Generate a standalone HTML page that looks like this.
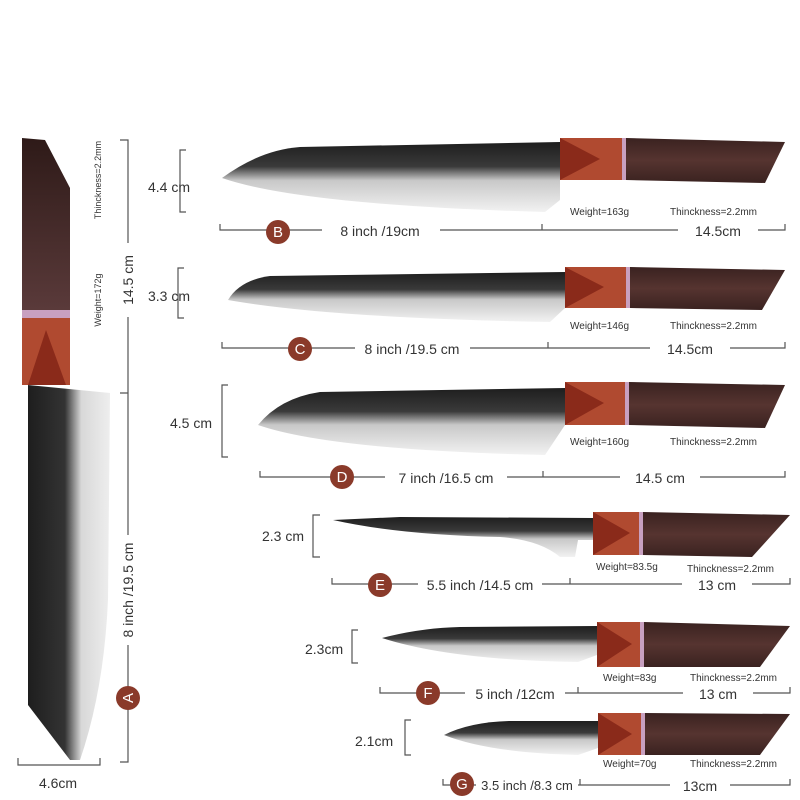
<!DOCTYPE html>
<html><head><meta charset="utf-8"><style>
html,body{margin:0;padding:0;background:#fff}
svg{display:block}
text{font-family:"Liberation Sans",sans-serif;fill:#333}
</style></head><body>
<svg width="800" height="800" viewBox="0 0 800 800" xmlns="http://www.w3.org/2000/svg">
<defs>
<linearGradient id="bl" x1="0" y1="0" x2="0" y2="1">
<stop offset="0" stop-color="#1e1e1e"/><stop offset="0.35" stop-color="#3a3a3a"/><stop offset="0.55" stop-color="#c8c8c8"/><stop offset="1" stop-color="#f2f2f2"/></linearGradient>
<linearGradient id="blA" x1="0" y1="0" x2="1" y2="0">
<stop offset="0" stop-color="#1e1e1e"/><stop offset="0.45" stop-color="#333"/><stop offset="0.65" stop-color="#d8d8d8"/><stop offset="1" stop-color="#eee"/></linearGradient>
<linearGradient id="wd" x1="0" y1="0" x2="0" y2="1">
<stop offset="0" stop-color="#3a2220"/><stop offset="0.5" stop-color="#563430"/><stop offset="1" stop-color="#3a2220"/></linearGradient>
<linearGradient id="wdA" x1="0" y1="0" x2="0" y2="1">
<stop offset="0" stop-color="#2e1a18"/><stop offset="1" stop-color="#5a3a3a"/></linearGradient>
</defs>

<!-- Knife A vertical -->
<path d="M22,138 L45,140 L70,188 L70,310 L22,310 Z" fill="url(#wdA)"/>
<rect x="22" y="310" width="48" height="8" fill="#c8a0c0"/>
<rect x="22" y="318" width="48" height="67" fill="#b04a30"/>
<path d="M28,385 L46,330 L66,385 Z" fill="#8a2a1a"/>
<path d="M28,385 L110,393 L108,600 Q104,690 80,760 L70,760 L28,705 Z" fill="url(#blA)"/>
<g stroke="#555" stroke-width="1.2" fill="none">
<path d="M120,140 H128 V762 H120 M120,393 H128"/>
<path d="M18,758 V765 H100 V758"/>
</g>
<rect x="120" y="243" width="16" height="74" fill="#fff"/>
<rect x="120" y="535" width="16" height="110" fill="#fff"/>
<text x="0" y="0" font-size="14" transform="translate(133,280) rotate(-90)" text-anchor="middle">14.5 cm</text>
<text x="0" y="0" font-size="14" transform="translate(133,590) rotate(-90)" text-anchor="middle">8 inch /19.5 cm</text>
<text x="0" y="0" font-size="9" transform="translate(101,180) rotate(-90)" text-anchor="middle">Thinckness=2.2mm</text>
<text x="0" y="0" font-size="9" transform="translate(101,300) rotate(-90)" text-anchor="middle">Weight=172g</text>
<circle cx="128" cy="698" r="12" fill="#8a3a2a"/>
<text x="0" y="0" font-size="15" transform="translate(133,698) rotate(-90)" text-anchor="middle" style="fill:#fff">A</text>
<text x="58" y="788" font-size="14" text-anchor="middle">4.6cm</text>

<g stroke="#555" stroke-width="1.2" fill="none">
<path d="M186,150 H180 V212 H186"/><path d="M220,224 V230 H785 V224 M542,224 V230"/>
<path d="M184,268 H178 V318 H184"/><path d="M222,342 V348 H785 V342 M548,342 V348"/>
<path d="M228,385 H222 V457 H228"/><path d="M260,471 V477 H785 V471 M543,471 V477"/>
<path d="M320,515 H313 V557 H320"/><path d="M332,578 V584 H790 V578 M570,578 V584"/>
<path d="M358,630 H352 V663 H358"/><path d="M380,687 V693 H790 V687 M578,687 V693"/>
<path d="M411,720 H405 V755 H411"/><path d="M443,779 V785 H790 V779 M580,779 V785"/>
</g>

<path d="M222,178 Q260,150 300,147 L560,142 L560,200 L545,212 Q300,205 222,178 Z" fill="url(#bl)"/>
<rect x="560" y="138" width="65" height="42" fill="#b04a30"/><path d="M560,138 L600,159 L560,180 Z" fill="#8a2a1a"/>
<rect x="622" y="138" width="4" height="42" fill="#c8a0c0"/>
<path d="M626,138 L785,142 L765,183 L626,180 Z" fill="url(#wd)"/>
<path d="M228,300 Q240,280 270,276 L565,272 L565,308 L550,322 Q330,318 228,300 Z" fill="url(#bl)"/>
<rect x="565" y="267" width="63" height="41" fill="#b04a30"/><path d="M565,267 L604,287 L565,308 Z" fill="#8a2a1a"/>
<rect x="626" y="267" width="4" height="41" fill="#c8a0c0"/>
<path d="M630,267 L785,270 L762,310 L630,308 Z" fill="url(#wd)"/>
<path d="M258,425 Q280,398 320,392 L565,388 L565,425 L545,455 Q330,450 258,425 Z" fill="url(#bl)"/>
<rect x="565" y="382" width="63" height="43" fill="#b04a30"/><path d="M565,382 L604,403 L565,425 Z" fill="#8a2a1a"/>
<rect x="625" y="382" width="4" height="43" fill="#c8a0c0"/>
<path d="M629,382 L785,385 L765,428 L629,425 Z" fill="url(#wd)"/>
<path d="M333,520 L400,517 L593,518 L593,540 L578,540 L575,557 L560,557 Q540,540 500,537 Q400,535 333,520 Z" fill="url(#bl)"/>
<rect x="593" y="512" width="47" height="43" fill="#b04a30"/><path d="M593,512 L630,533 L593,555 Z" fill="#8a2a1a"/>
<rect x="639" y="512" width="4" height="43" fill="#c8a0c0"/>
<path d="M643,512 L790,515 L752,557 L643,555 Z" fill="url(#wd)"/>
<path d="M382,638 Q420,628 460,627 L597,626 L597,655 L578,662 Q450,660 382,638 Z" fill="url(#bl)"/>
<rect x="597" y="622" width="43" height="45" fill="#b04a30"/><path d="M597,622 L632,644 L597,667 Z" fill="#8a2a1a"/>
<rect x="640" y="622" width="4" height="45" fill="#c8a0c0"/>
<path d="M644,622 L790,626 L760,667 L644,667 Z" fill="url(#wd)"/>
<path d="M444,735 Q470,722 510,721 L598,721 L598,748 L578,755 Q490,753 444,735 Z" fill="url(#bl)"/>
<rect x="598" y="713" width="43" height="42" fill="#b04a30"/><path d="M598,713 L632,734 L598,755 Z" fill="#8a2a1a"/>
<rect x="641" y="713" width="4" height="42" fill="#c8a0c0"/>
<path d="M645,713 L790,714 L760,755 L645,755 Z" fill="url(#wd)"/>

<g font-size="14">
<text x="148" y="192">4.4 cm</text>
<text x="148" y="301">3.3 cm</text>
<text x="170" y="428">4.5 cm</text>
<text x="262" y="541">2.3 cm</text>
<text x="305" y="654">2.3cm</text>
<text x="355" y="746">2.1cm</text>
</g>
<g font-size="10">
<text x="570" y="215">Weight=163g</text><text x="670" y="215">Thinckness=2.2mm</text>
<text x="570" y="329">Weight=146g</text><text x="670" y="329">Thinckness=2.2mm</text>
<text x="570" y="445">Weight=160g</text><text x="670" y="445">Thinckness=2.2mm</text>
<text x="596" y="570">Weight=83.5g</text><text x="687" y="572">Thinckness=2.2mm</text>
<text x="603" y="681">Weight=83g</text><text x="690" y="681">Thinckness=2.2mm</text>
<text x="603" y="767">Weight=70g</text><text x="690" y="767">Thinckness=2.2mm</text>
</g>
<g font-size="14" text-anchor="middle">
<rect x="322" y="222" width="118" height="16" fill="#fff"/><text x="380" y="236">8 inch /19cm</text>
<rect x="678" y="222" width="80" height="16" fill="#fff"/><text x="718" y="236">14.5cm</text>
<rect x="355" y="340" width="115" height="16" fill="#fff"/><text x="412" y="354">8 inch /19.5 cm</text>
<rect x="650" y="340" width="80" height="16" fill="#fff"/><text x="690" y="354">14.5cm</text>
<rect x="385" y="469" width="122" height="16" fill="#fff"/><text x="446" y="483">7 inch /16.5 cm</text>
<rect x="620" y="469" width="80" height="16" fill="#fff"/><text x="660" y="483">14.5 cm</text>
<rect x="418" y="576" width="124" height="16" fill="#fff"/><text x="480" y="590">5.5 inch /14.5 cm</text>
<rect x="682" y="576" width="70" height="16" fill="#fff"/><text x="717" y="590">13 cm</text>
<rect x="465" y="685" width="100" height="16" fill="#fff"/><text x="515" y="699">5 inch /12cm</text>
<rect x="683" y="685" width="70" height="16" fill="#fff"/><text x="718" y="699">13 cm</text>
<rect x="476" y="777" width="102" height="16" fill="#fff"/><text x="527" y="790" font-size="13">3.5 inch /8.3 cm</text>
<rect x="670" y="777" width="60" height="16" fill="#fff"/><text x="700" y="791">13cm</text>
</g>
<g fill="#8a3a2a">
<circle cx="278" cy="232" r="12"/><circle cx="300" cy="349" r="12"/><circle cx="342" cy="477" r="12"/>
<circle cx="380" cy="585" r="12"/><circle cx="428" cy="693" r="12"/><circle cx="462" cy="784" r="12"/>
</g>
<g font-size="15" text-anchor="middle">
<text x="278" y="237" style="fill:#fff">B</text><text x="300" y="354" style="fill:#fff">C</text><text x="342" y="482" style="fill:#fff">D</text>
<text x="380" y="590" style="fill:#fff">E</text><text x="428" y="698" style="fill:#fff">F</text><text x="462" y="789" style="fill:#fff">G</text>
</g>
</svg>
</body></html>
